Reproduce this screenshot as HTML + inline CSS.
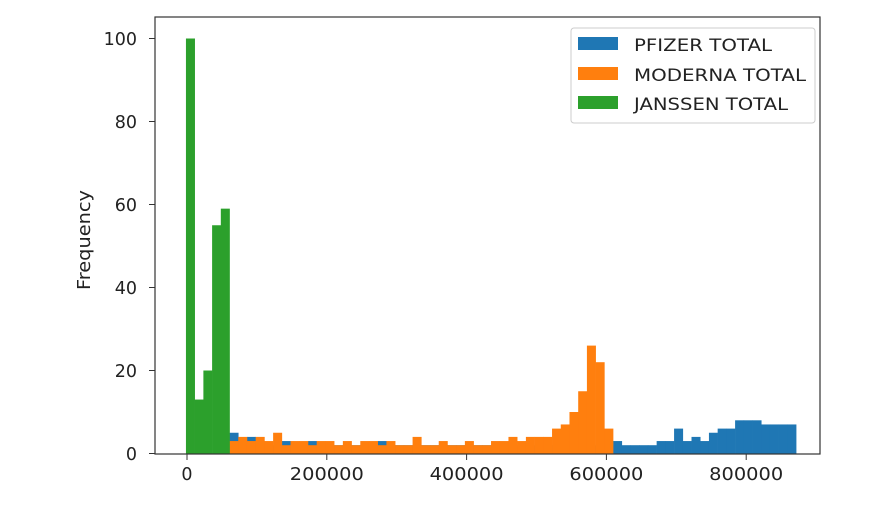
<!DOCTYPE html>
<html><head><meta charset="utf-8"><style>
html,body{margin:0;padding:0;background:#fff;}
svg{display:block;font-family:"DejaVu Sans","Liberation Sans",sans-serif;}
</style></head><body>
<svg id="chart" width="890" height="511" viewBox="0 0 890 511">
<rect x="0" y="0" width="890" height="511" fill="#fff"/>
<g id="bars"></g>
<g id="axes"></g>
<g>
<rect x="571" y="28" width="244" height="95" rx="3" fill="#fff" fill-opacity="0.8" stroke="#ccc" stroke-width="1"/>
<rect x="578" y="37" width="40" height="13" fill="#1f77b4"/>
<text x="634" y="51" font-size="17" textLength="138" lengthAdjust="spacingAndGlyphs" fill="#222">PFIZER TOTAL</text>
<rect x="578" y="67" width="40" height="13" fill="#ff7f0e"/>
<text x="634" y="81" font-size="17" textLength="172" lengthAdjust="spacingAndGlyphs" fill="#222">MODERNA TOTAL</text>
<rect x="578" y="96" width="40" height="13" fill="#2ca02c"/>
<text x="634" y="110" font-size="17" textLength="154" lengthAdjust="spacingAndGlyphs" fill="#222">JANSSEN TOTAL</text>
</g>
</svg>
<script>
const binStart = -1500;
const binWidth = 12470;
const pfizer = [0,0,0,0,0,5,2,4,2,2,2,3,2,2,3,2,2,2,2,2,2,2,3,2,2,2,2,2,2,2,2,2,2,2,2,2,2,2,2,2,2,2,2,2,2,2,2,2,2,3,2,2,2,2,3,3,6,3,4,3,5,6,6,8,8,8,7,7,7,7];
const moderna = [0,0,0,0,0,3,4,3,4,3,5,2,3,3,2,3,3,2,3,2,3,3,2,3,2,2,4,2,2,3,2,2,3,2,2,3,3,4,3,4,4,4,6,7,10,15,26,22,6];
const janssen = [100,13,20,55,59];
const xTicks = [0,200000,400000,600000,800000];
const xTickLabels = ["0","200000","400000","600000","800000"];
const yTicks = [0,20,40,60,80,100];
const yTickLabels = ["0","20","40","60","80","100"];

const PL=155, PR=820, PT=17, PB=454;
function xs(v){ return 187 + v*0.000699; }
function ys(v){ return 453.5 - v*4.15; }
const NS="http://www.w3.org/2000/svg";
const bars=document.getElementById('bars');
function drawSeries(arr,color,name){
  arr.forEach((v,i)=>{
    if(v<=0) return;
    const x0=xs(binStart+i*binWidth), x1=xs(binStart+(i+1)*binWidth);
    const r=document.createElementNS(NS,'rect');
    r.setAttribute('x',x0); r.setAttribute('width',x1-x0+0.3);
    r.setAttribute('y',ys(v)); r.setAttribute('height',ys(0)-ys(v));
    r.setAttribute('fill',color);
    
    
    bars.appendChild(r);
  });
}
drawSeries(pfizer,'#1f77b4','pfizer');
drawSeries(moderna,'#ff7f0e','moderna');
drawSeries(janssen,'#2ca02c','janssen');

const axes=document.getElementById('axes');
const frame=document.createElementNS(NS,'rect');
frame.setAttribute('x',PL); frame.setAttribute('y',PT);
frame.setAttribute('width',PR-PL); frame.setAttribute('height',PB-PT);
frame.setAttribute('fill','none'); frame.setAttribute('stroke','#333'); frame.setAttribute('stroke-width','1.2');


axes.appendChild(frame);
xTicks.forEach((t,i)=>{
  const x=xs(t);
  const l=document.createElementNS(NS,'line');
  l.setAttribute('x1',x); l.setAttribute('x2',x); l.setAttribute('y1',PB); l.setAttribute('y2',PB+6);
  l.setAttribute('stroke','#333');
  
  
  axes.appendChild(l);
  const tx=document.createElementNS(NS,'text');
  tx.setAttribute('x',x); tx.setAttribute('y',PB+26); tx.setAttribute('text-anchor','middle');
  tx.setAttribute('font-size','17.5'); tx.setAttribute('fill','#222');
  if(xTickLabels[i].length>1){ tx.setAttribute('textLength','74'); tx.setAttribute('lengthAdjust','spacingAndGlyphs'); }
  tx.textContent=xTickLabels[i];
  
  
  axes.appendChild(tx);
});
yTicks.forEach((t,i)=>{
  const y=ys(t);
  const l=document.createElementNS(NS,'line');
  l.setAttribute('x1',PL-6); l.setAttribute('x2',PL); l.setAttribute('y1',y); l.setAttribute('y2',y);
  l.setAttribute('stroke','#333');
  
  
  axes.appendChild(l);
  const tx=document.createElementNS(NS,'text');
  tx.setAttribute('x',PL-18); tx.setAttribute('y',y+6.5); tx.setAttribute('text-anchor','end');
  tx.setAttribute('font-size','17.5'); tx.setAttribute('fill','#222');
  tx.textContent=yTickLabels[i];
  
  
  axes.appendChild(tx);
});
const yl=document.createElementNS(NS,'text');
yl.setAttribute('transform','translate(90,240) rotate(-90)');
yl.setAttribute('text-anchor','middle'); yl.setAttribute('font-size','17.5'); yl.setAttribute('fill','#222');
yl.setAttribute('textLength','100'); yl.setAttribute('lengthAdjust','spacingAndGlyphs');
yl.textContent='Frequency';


axes.appendChild(yl);
</script>
</body></html>
